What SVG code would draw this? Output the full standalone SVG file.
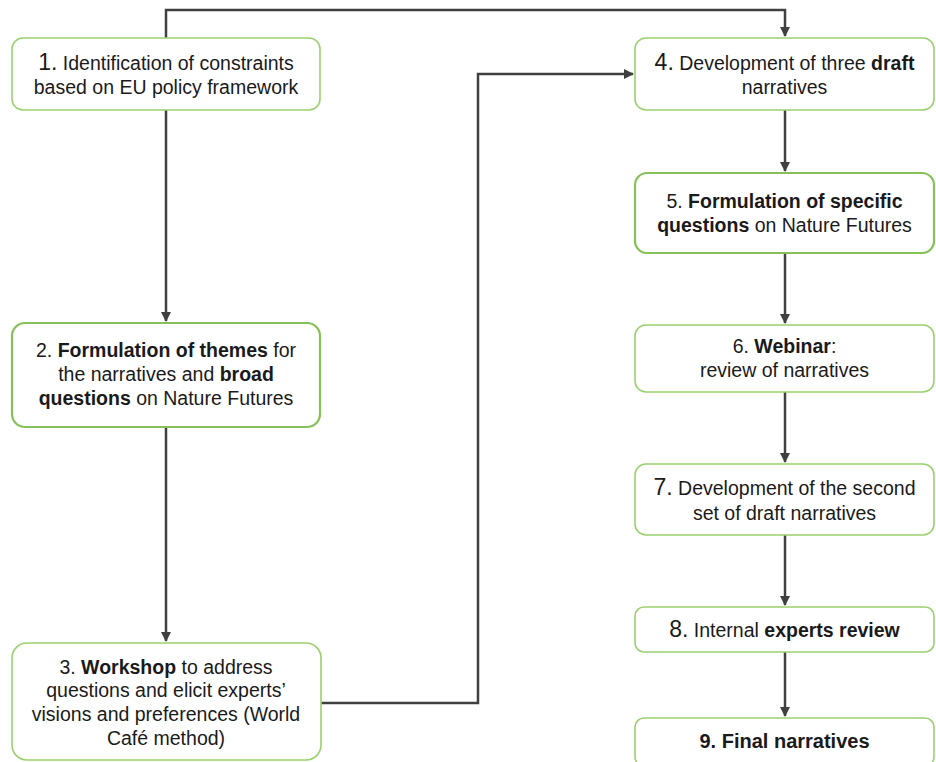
<svg xmlns="http://www.w3.org/2000/svg" width="936" height="762" viewBox="0 0 936 762">
<defs>
<marker id="arr" markerWidth="10" markerHeight="10" refX="9" refY="5" orient="auto" markerUnits="userSpaceOnUse">
<path d="M0,0 L10,5 L0,10 Z" fill="#404040"/>
</marker>
<style>
.box{fill:#ffffff;stroke:#9bd06f;stroke-width:1.6}
.box.thick{stroke:#85c157;stroke-width:2.2}
.t{font-family:"Liberation Sans",Arial,sans-serif;font-size:19.5px;fill:#1a1a1a;text-anchor:middle}
.b{font-weight:bold}
.n{font-size:23px}
.c{fill:none;stroke:#404040;stroke-width:2.5}
</style>
</defs>
<rect width="936" height="762" fill="#ffffff"/>
<g id="connectors">
<path class="c" d="M166,38 V10 H785 V36" marker-end="url(#arr)"/>
<path class="c" d="M166,110 V321" marker-end="url(#arr)"/>
<path class="c" d="M166,427 V641" marker-end="url(#arr)"/>
<path class="c" d="M321,703 H478 V74 H633" marker-end="url(#arr)"/>
<path class="c" d="M785,110 V171" marker-end="url(#arr)"/>
<path class="c" d="M785,253 V323" marker-end="url(#arr)"/>
<path class="c" d="M785,392 V462" marker-end="url(#arr)"/>
<path class="c" d="M785,535 V605" marker-end="url(#arr)"/>
<path class="c" d="M785,652 V716" marker-end="url(#arr)"/>
</g>
<g id="node1">
<rect class="box" x="12" y="38" width="308" height="72" rx="11"/>
<text class="t" x="166" y="70"><tspan class="n">1.</tspan> Identification of constraints</text>
<text class="t" x="166" y="94">based on EU policy framework</text>
</g>
<g id="node2">
<rect class="box thick" x="12" y="323" width="308" height="104" rx="13"/>
<text class="t" x="166" y="357">2. <tspan class="b">Formulation of themes</tspan> for</text>
<text class="t" x="166" y="381">the narratives and <tspan class="b">broad</tspan></text>
<text class="t" x="166" y="405"><tspan class="b">questions</tspan> on Nature Futures</text>
</g>
<g id="node3">
<rect class="box" x="12" y="643" width="309" height="117" rx="15"/>
<text class="t" x="166" y="674">3. <tspan class="b">Workshop</tspan> to address</text>
<text class="t" x="166" y="697">questions and elicit experts’</text>
<text class="t" x="166" y="721">visions and preferences (World</text>
<text class="t" x="166" y="745">Café method)</text>
</g>
<g id="node4">
<rect class="box" x="635" y="38" width="299" height="72" rx="11"/>
<text class="t" x="784.5" y="70"><tspan class="n">4.</tspan> Development of three <tspan class="b">draft</tspan></text>
<text class="t" x="784.5" y="94">narratives</text>
</g>
<g id="node5">
<rect class="box thick" x="635" y="173" width="299" height="80" rx="12"/>
<text class="t" x="784.5" y="208">5. <tspan class="b">Formulation of specific</tspan></text>
<text class="t" x="784.5" y="232"><tspan class="b">questions</tspan> on Nature Futures</text>
</g>
<g id="node6">
<rect class="box" x="635" y="325" width="299" height="67" rx="11"/>
<text class="t" x="784.5" y="353">6. <tspan class="b">Webinar</tspan>:</text>
<text class="t" x="784.5" y="377">review of narratives</text>
</g>
<g id="node7">
<rect class="box" x="635" y="464" width="299" height="71" rx="11"/>
<text class="t" x="784.5" y="495"><tspan class="n">7.</tspan> Development of the second</text>
<text class="t" x="784.5" y="520">set of draft narratives</text>
</g>
<g id="node8">
<rect class="box" x="635" y="607" width="299" height="45" rx="9"/>
<text class="t" x="784.5" y="637"><tspan class="n">8.</tspan> Internal <tspan class="b">experts review</tspan></text>
</g>
<g id="node9">
<rect class="box" x="635" y="718" width="299" height="48" rx="9"/>
<text class="t b" x="784.5" y="748" style="font-size:20px">9. Final narratives</text>
</g>
</svg>
